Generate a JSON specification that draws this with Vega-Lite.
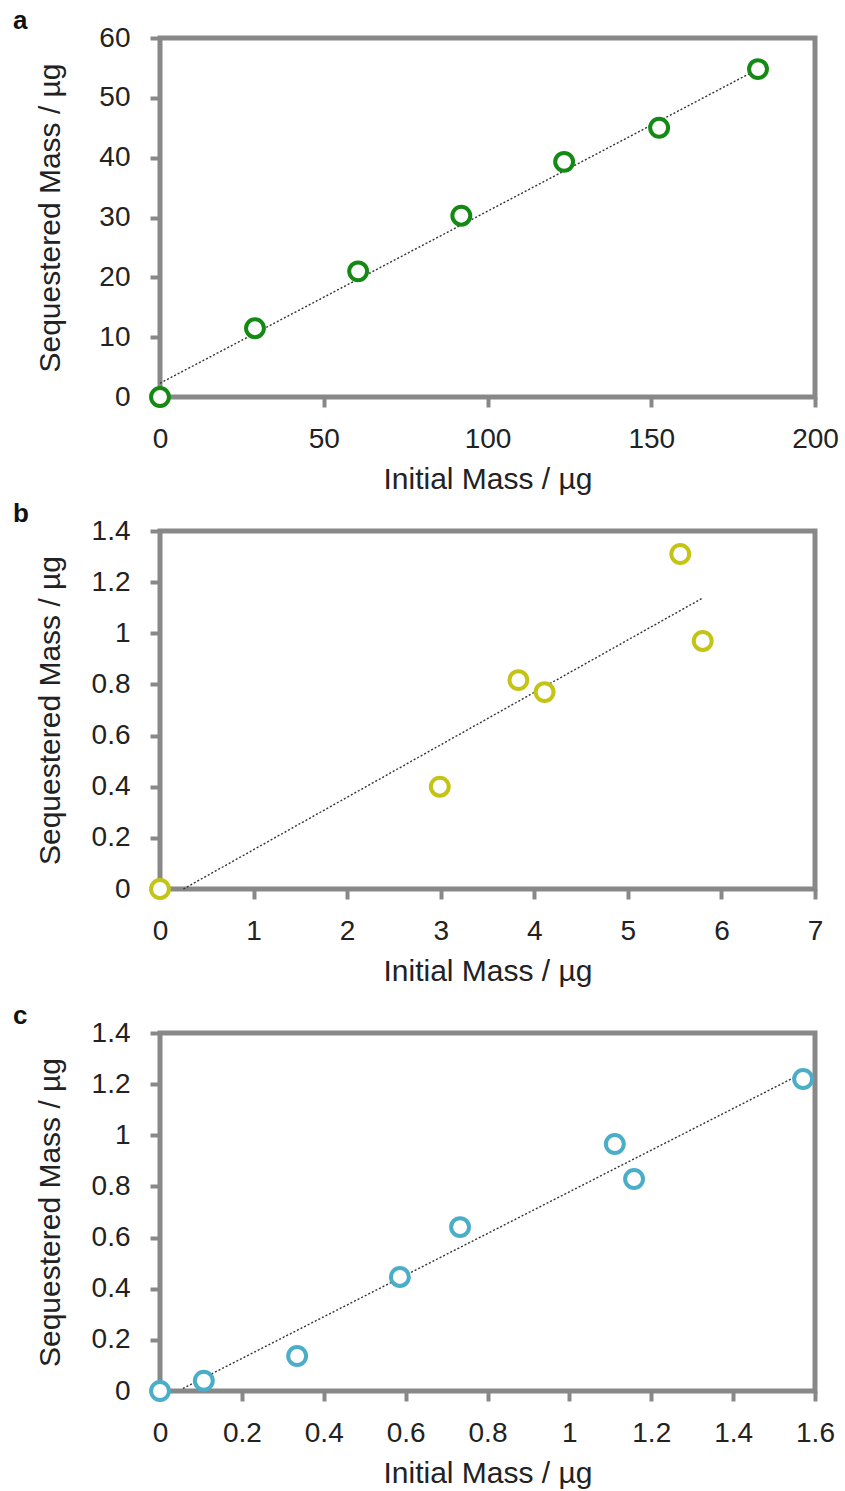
{
  "$schema": "https://vega.github.io/schema/vega-lite/v6.json",
  "autosize": {"type": "pad"},
  "padding": {"left": 10, "top": 5, "right": 0, "bottom": 0},
  "background": "white",
  "bounds": "flush",
  "spacing": 134,
  "datasets": {
    "ptsA": [
      {"x": 0, "y": 0}, {"x": 29, "y": 11.5}, {"x": 60.5, "y": 21}, {"x": 92, "y": 30.3},
      {"x": 123.4, "y": 39.3}, {"x": 152.4, "y": 45}, {"x": 182.6, "y": 54.8}
    ],
    "fitA": [{"x": 0, "y": 2.3}, {"x": 182.6, "y": 54.8}],
    "ptsB": [
      {"x": 0, "y": 0}, {"x": 2.99, "y": 0.4}, {"x": 3.83, "y": 0.817}, {"x": 4.11, "y": 0.77},
      {"x": 5.56, "y": 1.31}, {"x": 5.8, "y": 0.97}
    ],
    "fitB": [{"x": 0.25, "y": 0}, {"x": 5.8, "y": 1.138}],
    "ptsC": [
      {"x": 0, "y": 0}, {"x": 0.107, "y": 0.04}, {"x": 0.335, "y": 0.137}, {"x": 0.586, "y": 0.446},
      {"x": 0.733, "y": 0.641}, {"x": 1.111, "y": 0.966}, {"x": 1.158, "y": 0.829}, {"x": 1.571, "y": 1.22}
    ],
    "fitC": [{"x": 0.056, "y": 0.01}, {"x": 1.571, "y": 1.244}]
  },
  "vconcat": [
    {
      "title": {"text": "a", "anchor": "start", "frame": "group", "dx": -147, "dy": 10, "offset": 0, "fontSize": 26, "fontWeight": "bold", "font": "Liberation Sans", "color": "#111"},
      "width": 655, "height": 359,
      "layer": [
        {
          "data": {"name": "fitA"},
          "mark": {"type": "line", "color": "#333", "strokeWidth": 1.4, "strokeDash": [2, 2], "clip": false},
          "encoding": {
            "x": {"field": "x", "type": "quantitative", "scale": {"domain": [0, 200], "nice": false, "zero": false},
                  "axis": {"values": [0, 50, 100, 150, 200], "title": "Initial Mass / µg"}},
            "y": {"field": "y", "type": "quantitative", "scale": {"domain": [0, 60], "nice": false, "zero": false},
                  "axis": {"values": [0, 10, 20, 30, 40, 50, 60], "title": "Sequestered Mass / µg"}}
          }
        },
        {
          "data": {"name": "ptsA"},
          "mark": {"type": "point", "shape": "circle", "filled": false, "fill": "white", "fillOpacity": 1, "stroke": "#148a14", "strokeWidth": 4, "size": 320, "opacity": 1, "clip": false},
          "encoding": {
            "x": {"field": "x", "type": "quantitative"},
            "y": {"field": "y", "type": "quantitative"}
          }
        }
      ]
    },
    {
      "bounds": "flush",
      "spacing": 144,
      "vconcat": [
        {
          "title": {"text": "b", "anchor": "start", "frame": "group", "dx": -147, "dy": 10, "offset": 0, "fontSize": 26, "fontWeight": "bold", "font": "Liberation Sans", "color": "#111"},
          "width": 655, "height": 358,
          "layer": [
            {
              "data": {"name": "fitB"},
              "mark": {"type": "line", "color": "#333", "strokeWidth": 1.4, "strokeDash": [2, 2], "clip": false},
              "encoding": {
                "x": {"field": "x", "type": "quantitative", "scale": {"domain": [0, 7], "nice": false, "zero": false},
                      "axis": {"values": [0, 1, 2, 3, 4, 5, 6, 7], "format": "~g", "title": "Initial Mass / µg"}},
                "y": {"field": "y", "type": "quantitative", "scale": {"domain": [0, 1.4], "nice": false, "zero": false},
                      "axis": {"values": [0, 0.2, 0.4, 0.6, 0.8, 1, 1.2, 1.4], "format": "~g", "title": "Sequestered Mass / µg"}}
              }
            },
            {
              "data": {"name": "ptsB"},
              "mark": {"type": "point", "shape": "circle", "filled": false, "fill": "white", "fillOpacity": 1, "stroke": "#c4c416", "strokeWidth": 4, "size": 320, "opacity": 1, "clip": false},
              "encoding": {
                "x": {"field": "x", "type": "quantitative"},
                "y": {"field": "y", "type": "quantitative"}
              }
            }
          ]
        },
        {
          "title": {"text": "c", "anchor": "start", "frame": "group", "dx": -147, "dy": 10, "offset": 0, "fontSize": 26, "fontWeight": "bold", "font": "Liberation Sans", "color": "#111"},
          "width": 655, "height": 358,
          "layer": [
            {
              "data": {"name": "fitC"},
              "mark": {"type": "line", "color": "#333", "strokeWidth": 1.4, "strokeDash": [2, 2], "clip": false},
              "encoding": {
                "x": {"field": "x", "type": "quantitative", "scale": {"domain": [0, 1.6], "nice": false, "zero": false},
                      "axis": {"values": [0, 0.2, 0.4, 0.6, 0.8, 1, 1.2, 1.4, 1.6], "format": "~g", "title": "Initial Mass / µg"}},
                "y": {"field": "y", "type": "quantitative", "scale": {"domain": [0, 1.4], "nice": false, "zero": false},
                      "axis": {"values": [0, 0.2, 0.4, 0.6, 0.8, 1, 1.2, 1.4], "format": "~g", "title": "Sequestered Mass / µg"}}
              }
            },
            {
              "data": {"name": "ptsC"},
              "mark": {"type": "point", "shape": "circle", "filled": false, "fill": "white", "fillOpacity": 1, "stroke": "#4aaec9", "strokeWidth": 4, "size": 320, "opacity": 1, "clip": false},
              "encoding": {
                "x": {"field": "x", "type": "quantitative"},
                "y": {"field": "y", "type": "quantitative"}
              }
            }
          ]
        }
      ]
    }
  ],
  "config": {
    "view": {"stroke": "#888888", "strokeWidth": 5},
    "axis": {
      "grid": false, "domain": false,
      "tickColor": "#888888", "tickWidth": 4, "tickSize": 10,
      "labelFont": "Liberation Sans", "labelFontSize": 28, "labelColor": "#222",
      "titleFont": "Liberation Sans", "titleFontSize": 30, "titleFontWeight": "normal", "titleColor": "#222",
      "labelOverlap": false, "labelFlush": false
    },
    "axisX": {"labelPadding": 18, "titleY": 82, "titleBaseline": "middle", "titleAlign": "center"},
    "axisY": {"labelPadding": 20, "titleX": -110, "titleAngle": -90, "titleBaseline": "middle", "titleAlign": "center"}
  }
}
